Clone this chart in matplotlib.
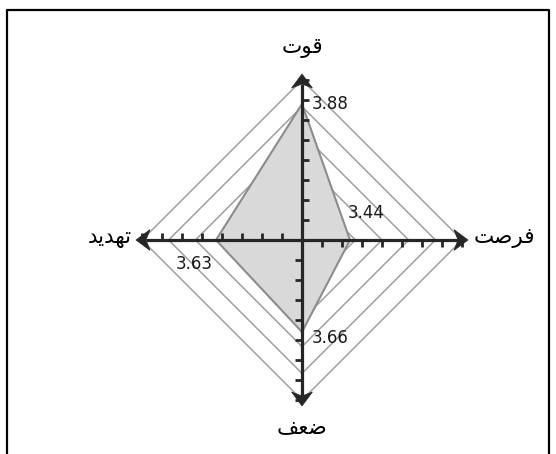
import numpy as np
import matplotlib.pyplot as plt
from matplotlib.patches import Polygon
from matplotlib.lines import Line2D

plt.rcParams['font.family'] = ['DejaVu Sans']

# ------------------------------------------------------------
# data (clockwise from top)
categories = ['قوت', 'فرصت', 'ضعف', 'تهدید']
values = [3.88, 3.44, 3.66, 3.63]
value_labels = ['3.88', '3.44', '3.66', '3.63']
ring_levels = [3.333, 3.467, 3.600, 3.733, 3.867, 4.000]
axis_ticks = [3.3, 3.4, 3.5, 3.6, 3.7, 3.8, 3.9, 4.0]
r_min = 3.2
axis_end = 4.03

# ------------------------------------------------------------
# matplotlib has no arabic shaping -> pick presentation forms by hand
FORMS = {
    'ق': ('\uFED5', '\uFED6', '\uFED7', '\uFED8'),
    'و': ('\uFEED', '\uFEEE', None, None),
    'ت': ('\uFE95', '\uFE96', '\uFE97', '\uFE98'),
    'ف': ('\uFED1', '\uFED2', '\uFED3', '\uFED4'),
    'ر': ('\uFEAD', '\uFEAE', None, None),
    'ص': ('\uFEB9', '\uFEBA', '\uFEBB', '\uFEBC'),
    'ض': ('\uFEBD', '\uFEBE', '\uFEBF', '\uFEC0'),
    'ع': ('\uFEC9', '\uFECA', '\uFECB', '\uFECC'),
    'ه': ('\uFEE9', '\uFEEA', '\uFEEB', '\uFEEC'),
    'د': ('\uFEA9', '\uFEAA', None, None),
    'ی': ('\uFBFC', '\uFBFD', '\uFBFE', '\uFBFF'),
}


def shape(word):
    out = []
    for i, ch in enumerate(word):
        iso, fin, ini, med = FORMS[ch]
        prev_joins = i > 0 and FORMS[word[i - 1]][2] is not None
        next_joins = ini is not None and i < len(word) - 1
        if prev_joins and next_joins:
            out.append(med)
        elif prev_joins:
            out.append(fin)
        elif next_joins:
            out.append(ini)
        else:
            out.append(iso)
    return ''.join(reversed(out))


angles = np.deg2rad([90, 0, -90, 180])


def to_xy(vals):
    r = np.asarray(vals, dtype=float) - r_min
    return r * np.cos(angles), r * np.sin(angles)


# ------------------------------------------------------------
fig = plt.figure(figsize=(5.56, 4.54), dpi=100)
ax = fig.add_axes([0, 0, 1, 1])
ax.set_xlim(-1.51, 1.27)
ax.set_ylim(-1.07, 1.20)
ax.axis('off')

# grid rings
for lev in ring_levels:
    x, y = to_xy([lev] * 4)
    ax.plot(np.append(x, x[0]), np.append(y, y[0]), color='#a0a0a0', lw=1.1, zorder=1)

# data polygon
x, y = to_xy(values)
ax.add_patch(Polygon(np.column_stack([x, y]), closed=True, facecolor='#d9d9d9',
                     edgecolor='#8c8c8c', lw=1.5, zorder=2))

# arrow axes with ticks
axc = '#262626'
L = axis_end - r_min
for a in angles:
    u = np.array([np.cos(a), np.sin(a)])
    p = np.array([u[1], -u[0]])
    base = u * (L - 0.05)
    ax.plot([0, base[0]], [0, base[1]], color=axc, lw=2.3, zorder=5, solid_capstyle='butt')
    for t in axis_ticks:
        s = (t - r_min) * u
        e = s + 0.037 * p
        ax.plot([s[0], e[0]], [s[1], e[1]], color=axc, lw=2.0, zorder=5, solid_capstyle='butt')
    head = [u * L, u * (L - 0.07) + 0.052 * p, u * (L - 0.05), u * (L - 0.07) - 0.052 * p]
    ax.add_patch(Polygon(head, closed=True, facecolor=axc, edgecolor=axc, lw=0.5, zorder=6))

# value labels
offsets = [(10, 0), (-2, 27), (10, -6), (-3, -24)]
aligns = ['left', 'left', 'left', 'right']
for xi, yi, lab, off, ha in zip(x, y, value_labels, offsets, aligns):
    ax.annotate(lab, (xi, yi), xytext=off, textcoords='offset pixels',
                ha=ha, va='center', fontsize=12, color='#1a1a1a', zorder=7)

# category labels
tx, ty = to_xy([axis_end] * 4)
cat_off = [(0, 26), (6, 2), (0, -21), (-4, 2)]
cat_ha = ['center', 'left', 'center', 'right']
for xi, yi, name, off, ha in zip(tx, ty, categories, cat_off, cat_ha):
    ax.annotate(shape(name), (xi, yi), xytext=off, textcoords='offset pixels',
                ha=ha, va='center', fontsize=15.5, color='black')

# outer frame (bottom edge is cut off in the original)
fig.add_artist(Line2D([7 / 556, 7 / 556, 549 / 556, 549 / 556],
                      [0, 1 - 10 / 454, 1 - 10 / 454, 0],
                      transform=fig.transFigure, color='black', lw=1.6))

fig.savefig('out.png', dpi=100)
